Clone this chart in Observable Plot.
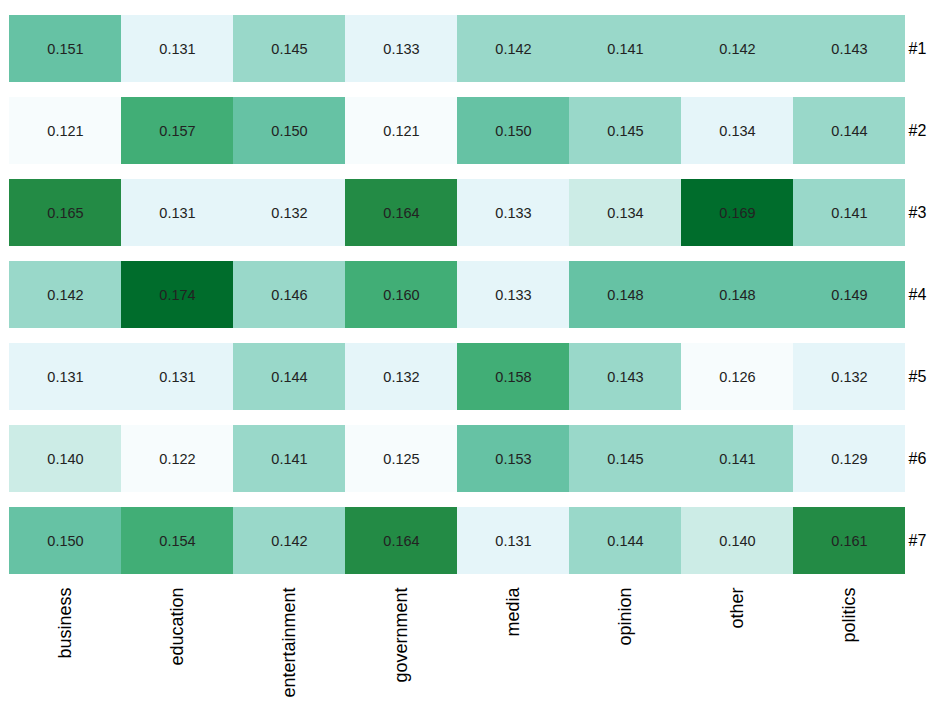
<!DOCTYPE html>
<html>
<head>
<meta charset="utf-8">
<script src="https://cdn.jsdelivr.net/npm/d3@7"></script>
<script src="https://cdn.jsdelivr.net/npm/@observablehq/plot@0.6"></script>
<style>
  html, body { margin: 0; padding: 0; background: #fff; }
</style>
</head>
<body>
<div id="chart"></div>
<script>
const categories = ["business", "education", "entertainment", "government", "media", "opinion", "other", "politics"];
const rows = ["#1", "#2", "#3", "#4", "#5", "#6", "#7"];
const row1 = [0.151, 0.131, 0.145, 0.133, 0.142, 0.141, 0.142, 0.143];
const row2 = [0.121, 0.157, 0.150, 0.121, 0.150, 0.145, 0.1338, 0.144];
const row3 = [0.165, 0.131, 0.132, 0.164, 0.133, 0.1344, 0.169, 0.141];
const row4 = [0.142, 0.174, 0.146, 0.160, 0.133, 0.148, 0.148, 0.149];
const row5 = [0.131, 0.131, 0.144, 0.132, 0.158, 0.143, 0.126, 0.132];
const row6 = [0.140, 0.122, 0.141, 0.125, 0.153, 0.145, 0.141, 0.129];
const row7 = [0.150, 0.154, 0.142, 0.164, 0.131, 0.144, 0.140, 0.161];
const rowValues = [row1, row2, row3, row4, row5, row6, row7];

const thresholds = [0.128, 0.1341, 0.1405, 0.147, 0.1535, 0.1605, 0.167];
const colors = ["#f7fcfd", "#e5f5f9", "#ccece6", "#99d8c9", "#66c2a4", "#41ae76", "#238b45", "#006d2c"];

const data = [];
rows.forEach((r, i) => categories.forEach((c, j) => data.push({row: r, cat: c, v: rowValues[i][j]})));

const chart = Plot.plot({
  width: 941,
  height: 705,
  marginLeft: 7,
  marginRight: 34,
  marginTop: 15,
  marginBottom: 131,
  style: {fontFamily: "'Liberation Sans', Arial, sans-serif", color: "#000", background: "#fff"},
  x: {domain: categories, padding: 0, label: null},
  y: {domain: rows, paddingInner: 0.183, paddingOuter: 0, label: null},
  color: {type: "threshold", domain: thresholds, range: colors},
  marks: [
    Plot.cell(data, {x: "cat", y: "row", fill: "v", inset: 0}),
    Plot.text(data, {x: "cat", y: "row", text: d => d.v.toFixed(3), fill: "#222", fontSize: 14.5}),
    Plot.axisX({tickRotate: -90, tickSize: 0, tickPadding: 13, fontSize: 18, label: null}),
    Plot.axisY({anchor: "right", tickSize: 0, tickPadding: 1, fontSize: 16, label: null})
  ]
});
document.getElementById("chart").appendChild(chart);
</script>
</body>
</html>
